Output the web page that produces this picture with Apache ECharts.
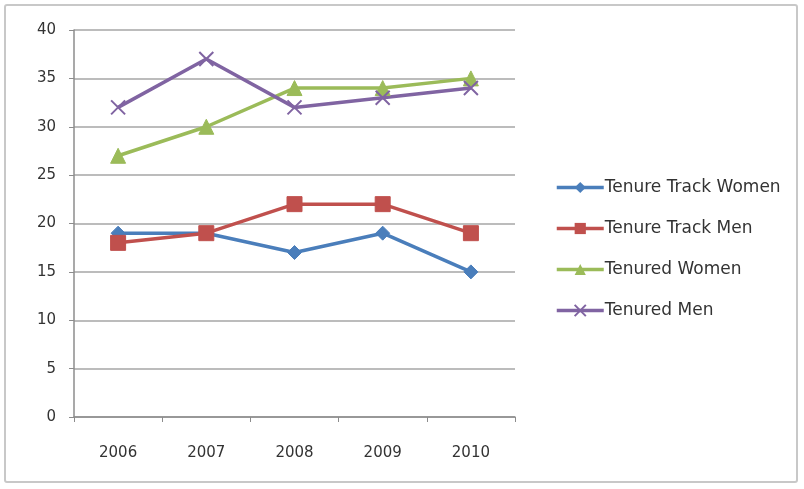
<!DOCTYPE html>
<html><head><meta charset="utf-8">
<script src="https://cdn.jsdelivr.net/npm/echarts@6/dist/echarts.min.js"></script>
<style>html,body{margin:0;padding:0;background:#fff}#c{width:804px;height:489px}
#frame{position:absolute;left:4px;top:4px;width:794px;height:479px;border:2px solid #c8c8c8;border-radius:3px;box-sizing:border-box;pointer-events:none}</style>
</head><body><div id="c"></div><div id="frame"></div>
<script>
const years = ['2006','2007','2008','2009','2010'];
const tenureTrackWomen = [19, 19, 17, 19, 15];
const tenureTrackMen = [18, 19, 22, 22, 19];
const tenuredWomen = [27, 30, 34, 34, 35];
const tenuredMen = [32, 37, 32, 33, 34];
const seriesNames = ['Tenure Track Women','Tenure Track Men','Tenured Women','Tenured Men'];

const font = 'DejaVu Sans';
const chart = echarts.init(document.getElementById('c'));
const crossPath = 'path://M0,0L10,10M10,0L0,10';
function s(name, data, color, symbol, size, extra) {
  return Object.assign({
    name, type: 'line', data, symbol, symbolSize: size,
    lineStyle: { color, width: 3.5 },
    itemStyle: { color, borderColor: color },
    animation: false
  }, extra || {});
}
chart.setOption({
  animation: false,
  textStyle: { fontFamily: font },
  grid: { left: 74, right: 289, top: 30, bottom: 72 },
  legend: {
    orient: 'vertical', left: 550, top: 174, itemGap: 24, itemWidth: 47, itemHeight: 14,
    lineStyle: { width: 3.5 },
    textStyle: { fontFamily: font, fontSize: 17, color: '#333', padding: [0,0,0,-4] },
    data: seriesNames.map(n => ({ name: n }))
  },
  xAxis: {
    type: 'category', data: years, boundaryGap: true,
    axisLine: { lineStyle: { color: '#8c8c8c', width: 1.5 } },
    axisTick: { show: true, length: 5, lineStyle: { color: '#8c8c8c' } },
    axisLabel: { color: '#333', fontSize: 15, margin: 29, fontFamily: font }
  },
  yAxis: {
    type: 'value', min: 0, max: 40, interval: 5,
    axisLine: { show: true, lineStyle: { color: '#8c8c8c', width: 1.5 } },
    axisTick: { show: true, length: 5, lineStyle: { color: '#8c8c8c' } },
    axisLabel: { color: '#333', fontSize: 15, margin: 18, fontFamily: font },
    splitLine: { lineStyle: { color: '#a6a6a6', width: 1.5 } }
  },
  series: [
    s(seriesNames[0], tenureTrackWomen, '#4a7ebb', 'diamond', 14),
    s(seriesNames[1], tenureTrackMen, '#c0504d', 'rect', 15),
    s(seriesNames[2], tenuredWomen, '#9bbb59', 'triangle', 15),
    s(seriesNames[3], tenuredMen, '#8064a2', crossPath, 14, { itemStyle: { color: 'none', borderColor: '#8064a2', borderWidth: 2 } })
  ]
});
</script></body></html>
